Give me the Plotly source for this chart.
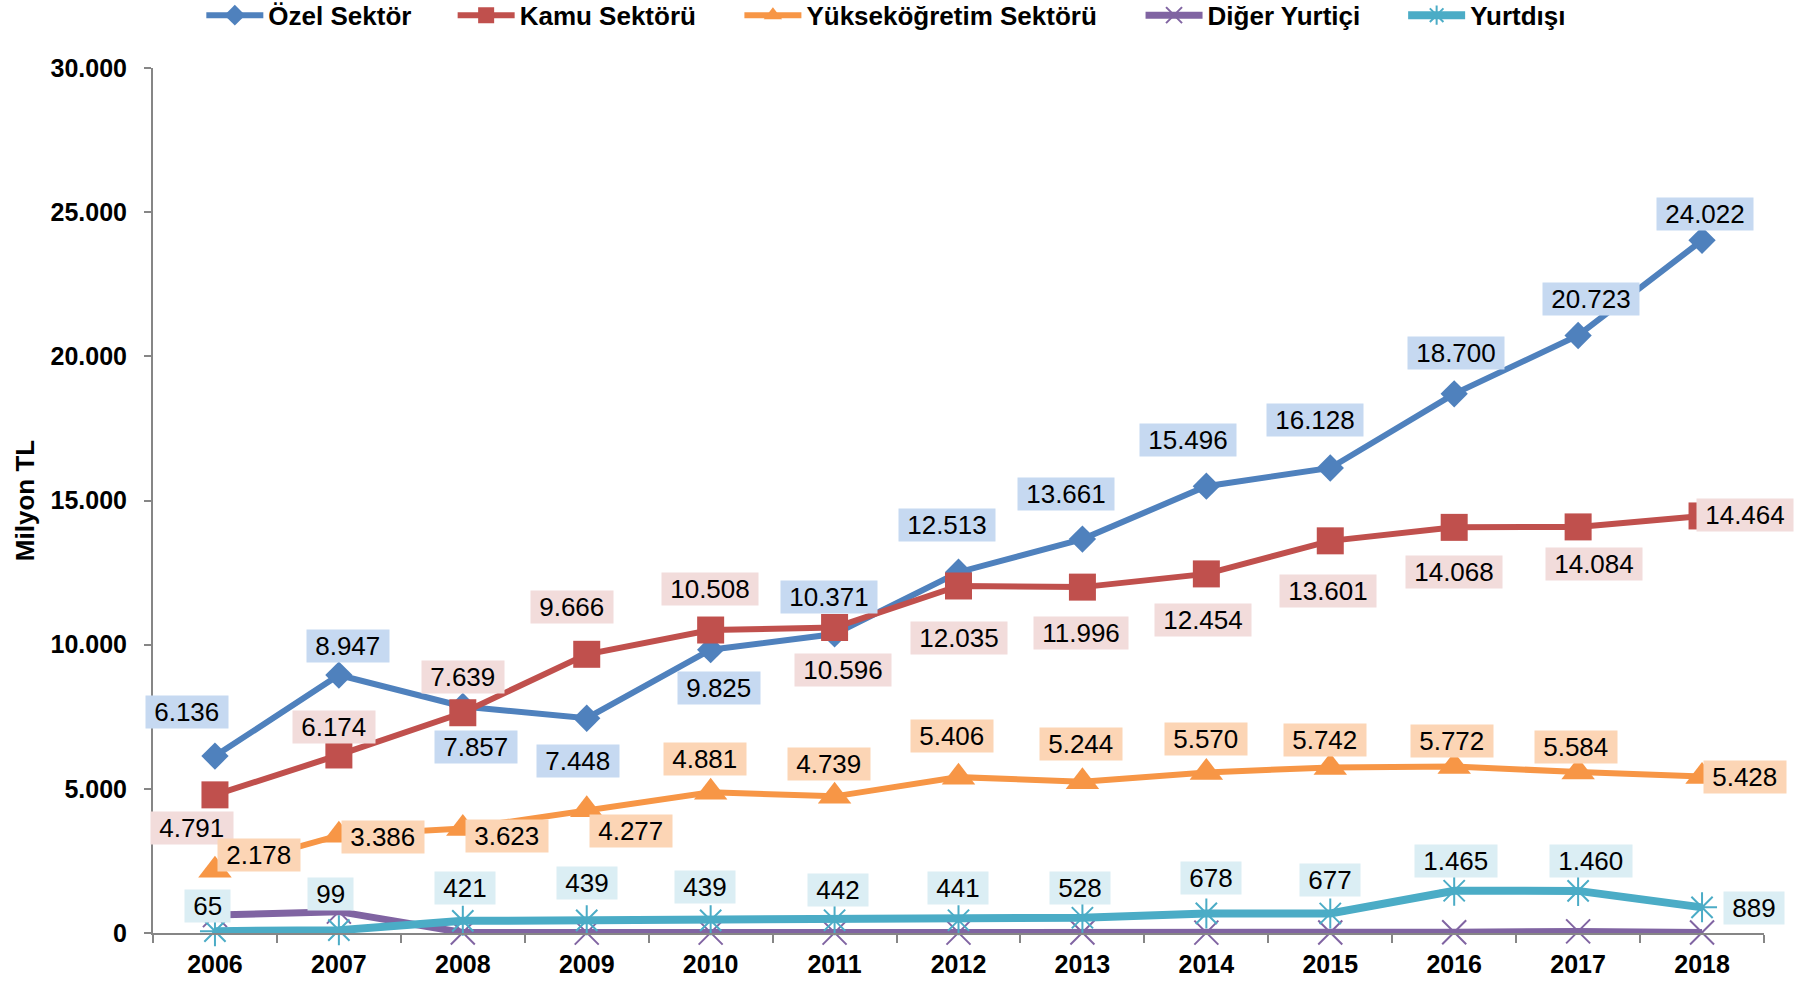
import plotly.graph_objects as go

# ---------------- data ----------------
years = ["2006", "2007", "2008", "2009", "2010", "2011", "2012",
         "2013", "2014", "2015", "2016", "2017", "2018"]
ozel = [6136, 8947, 7857, 7448, 9825, 10371, 12513, 13661, 15496, 16128, 18700, 20723, 24022]
kamu = [4791, 6174, 7639, 9666, 10508, 10596, 12035, 11996, 12454, 13601, 14068, 14084, 14464]
yuksek = [2178, 3386, 3623, 4277, 4881, 4739, 5406, 5244, 5570, 5742, 5772, 5584, 5428]
diger = [620, 740, 15, 12, 12, 12, 14, 15, 14, 16, 25, 55, 20]
yurtdisi = [65, 99, 421, 439, 439, 442, 441, 528, 678, 677, 1465, 1460, 889]

y_ticks = [0, 5000, 10000, 15000, 20000, 25000, 30000]

# ---------------- label placement (pixel shifts: right, up) ----------------
ozel_off = [(-28, 44), (9, 29), (13, -41), (-9, -43), (8, -38), (-6, 37), (-12, 47),
            (-16, 45), (-18, 46), (-15, 48), (2, 41), (13, 36), (3, 26)]
kamu_off = [(-23, -33), (-5, 28), (0, 36), (-15, 47), (-1, 41), (8, -43), (0, -52),
            (-1, -46), (-3, -46), (-2, -50), (0, -45), (16, -37), (43, 1)]
yuksek_off = [(44, 15), (44, -2), (44, -7), (44, -21), (-6, 33), (-6, 32), (-7, 41),
              (-1, 38), (0, 33), (-5, 27), (-2, 26), (-2, 25), (43, -1)]
yurt_off = [(-7, 25), (-8, 36), (2, 33), (0, 37), (-6, 33), (3, 30), (-1, 32),
            (-2, 30), (5, 35), (0, 33), (2, 30), (13, 30), (52, -1)]

FONT = "Liberation Sans, Arial, Helvetica, sans-serif"
C_BLUE, C_RED, C_ORANGE, C_PURPLE, C_CYAN = "#4F81BD", "#C0504D", "#F79646", "#8064A2", "#4BACC6"
BG_BLUE, BG_RED, BG_ORANGE, BG_CYAN = "#C6D9F1", "#F2DCDB", "#FCD5B5", "#DBEEF4"


def fmt(v):
    return f"{v:,}".replace(",", ".")


fig = go.Figure()

series = [
    ("Özel Sektör", ozel, C_BLUE, 6, dict(symbol="diamond", size=21, color=C_BLUE), "legend"),
    ("Kamu Sektörü", kamu, C_RED, 6, dict(symbol="square", size=27, color=C_RED), "legend2"),
    ("Yükseköğretim Sektörü", yuksek, C_ORANGE, 6,
     dict(symbol="triangle-up", size=29, color=C_ORANGE), "legend3"),
    ("Diğer Yurtiçi", diger, C_PURPLE, 7,
     dict(symbol="x-thin-open", size=24, color=C_PURPLE, line=dict(color=C_PURPLE, width=2)), "legend4"),
    ("Yurtdışı", yurtdisi, C_CYAN, 8,
     dict(symbol="asterisk-open", size=25, color=C_CYAN, line=dict(color=C_CYAN, width=2)), "legend5"),
]
for name, vals, col, lw, mk, lg in series:
    fig.add_trace(go.Scatter(x=years, y=vals, name=name, mode="lines+markers",
                             line=dict(color=col, width=lw), marker=mk,
                             cliponaxis=False, legend=lg))

annotations = []
for vals, offs, bg in [(ozel, ozel_off, BG_BLUE), (kamu, kamu_off, BG_RED),
                       (yuksek, yuksek_off, BG_ORANGE), (yurtdisi, yurt_off, BG_CYAN)]:
    for i, (yv, (dx, dy)) in enumerate(zip(vals, offs)):
        annotations.append(dict(
            x=i, y=yv, xref="x", yref="y", showarrow=False,
            text="\u00a0" + fmt(yv) + "\u00a0", xshift=dx, yshift=dy,
            bgcolor=bg, borderpad=1,
            font=dict(family=FONT, size=26, color="#000000")))

leg_font = dict(family=FONT, size=26, color="#000000", weight="bold")
leg_x = [0.03, 0.186, 0.364, 0.613, 0.776]
legends = {}
for k, xv in enumerate(leg_x):
    key = "legend" if k == 0 else f"legend{k + 1}"
    legends[key] = dict(orientation="h", x=xv, xanchor="left", y=1.061, yanchor="middle",
                        font=leg_font, itemwidth=57, bgcolor="rgba(0,0,0,0)")

fig.update_layout(
    width=1807, height=981,
    margin=dict(l=153, r=43, t=68, b=48, autoexpand=False),
    paper_bgcolor="white", plot_bgcolor="white",
    separators=",.",
    font=dict(family=FONT, color="#000000"),
    showlegend=True,
    xaxis=dict(type="category", range=[-0.5, 12.5], showgrid=False,
               showline=True, linecolor="#868686", linewidth=2,
               ticks="outside", tickson="boundaries", ticklen=8, tickcolor="#868686", tickwidth=2,
               tickfont=dict(family=FONT, size=25, color="#000000", weight="bold"),
               ticklabelstandoff=8, zeroline=False),
    yaxis=dict(range=[0, 30000], tickvals=y_ticks, ticktext=[fmt(v) for v in y_ticks],
               showgrid=False, zeroline=False,
               showline=True, linecolor="#868686", linewidth=2,
               ticks="outside", ticklen=7, tickcolor="#868686", tickwidth=2,
               tickfont=dict(family=FONT, size=25, color="#000000", weight="bold"),
               ticklabelstandoff=12,
               title=dict(text="Milyon TL", standoff=8,
                          font=dict(family=FONT, size=26, color="#000000", weight="bold"))),
    **legends,
)
fig.update_layout(annotations=annotations)

fig.write_html("out.html", config={"displayModeBar": False},
               post_script="document.body.style.margin='0px'; document.body.style.overflow='hidden';")
